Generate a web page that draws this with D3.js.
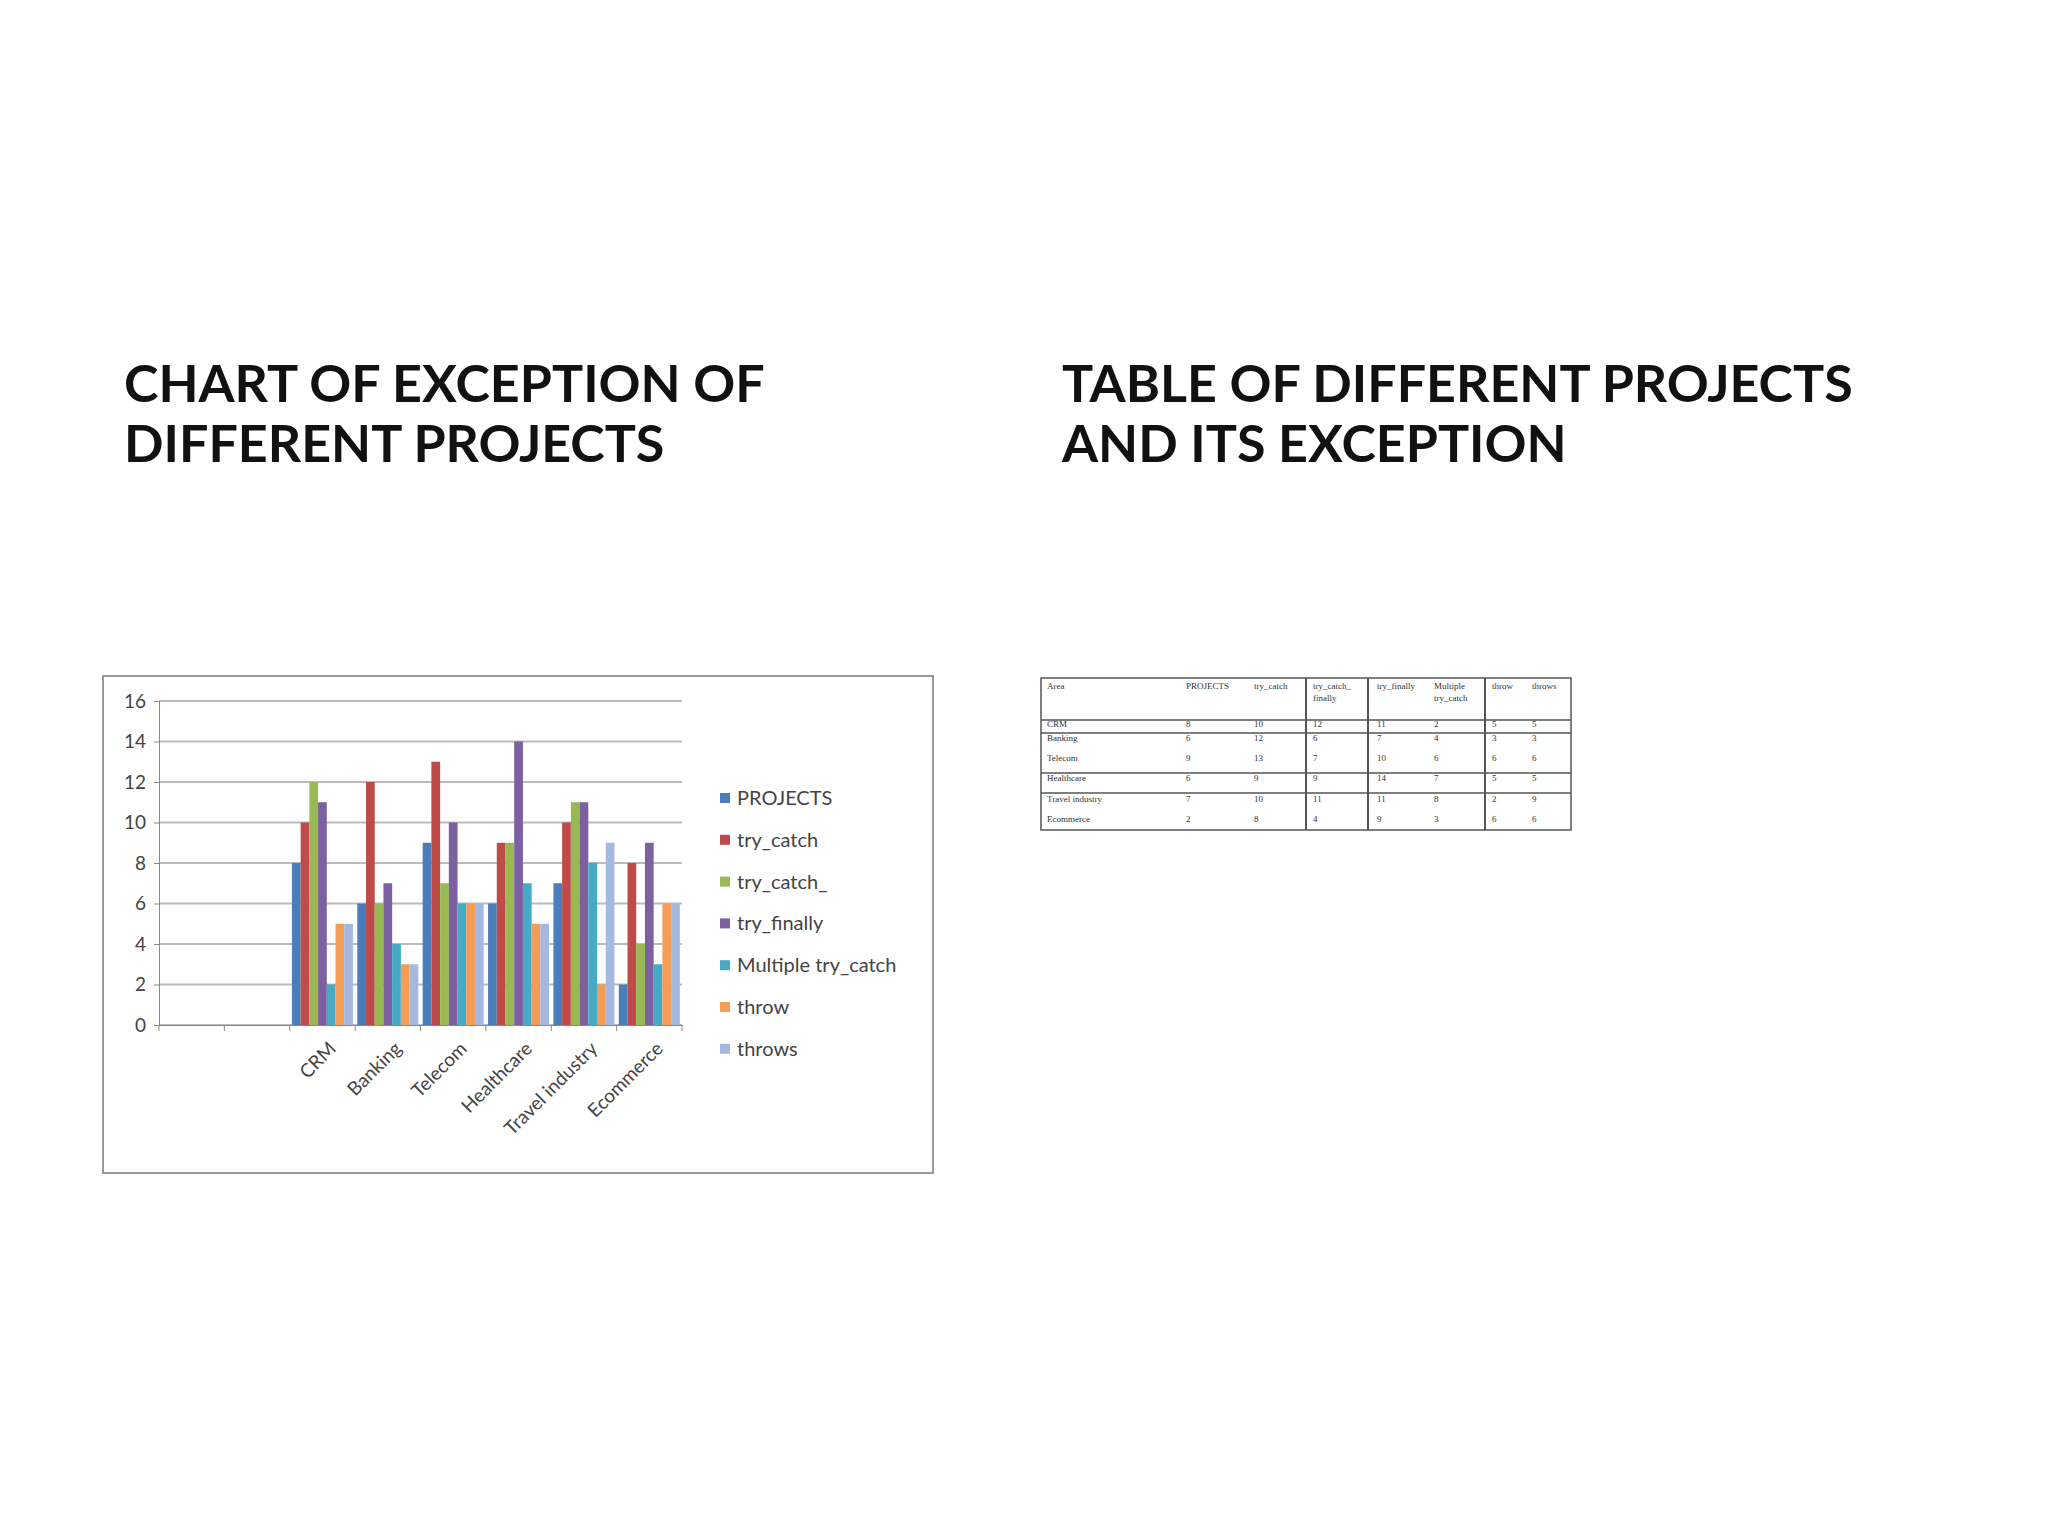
<!DOCTYPE html>
<html><head><meta charset="utf-8">
<script src="https://cdn.jsdelivr.net/npm/d3@7"></script>
<style>body{margin:0;background:#fff}</style>
</head><body>
<svg id="c" width="2048" height="1536"></svg>
<script>
const categories = ["CRM","Banking","Telecom","Healthcare","Travel industry","Ecommerce"];
const seriesNames = ["PROJECTS","try_catch","try_catch_","try_finally","Multiple try_catch","throw","throws"];
const PROJECTS = [8,6,9,6,7,2];
const try_catch = [10,12,13,9,10,8];
const try_catch_ = [12,6,7,9,11,4];
const try_finally = [11,7,10,14,11,9];
const multiple_try_catch = [2,4,6,7,8,3];
const throwV = [5,3,6,5,2,6];
const throwsV = [5,3,6,5,9,6];
const yTicks = [0,2,4,6,8,10,12,14,16];
const colors = ["#4a7ebb","#be4b48","#98b954","#7d60a0","#46aac5","#f59d56","#a5b9e0"];
const series = [PROJECTS,try_catch,try_catch_,try_finally,multiple_try_catch,throwV,throwsV];

const svg = d3.select("#c");
const font = "Lato, 'Open Sans', sans-serif";
// Titles
[["CHART OF EXCEPTION OF","DIFFERENT PROJECTS",124],["TABLE OF DIFFERENT PROJECTS","AND ITS EXCEPTION",1062]].forEach(t=>{
  [t[0],t[1]].forEach((s,i)=>svg.append("text").attr("x",t[2]).attr("y",402+i*60)
    .attr("font-family",font).attr("font-weight","bold").attr("font-size",52).attr("fill","#111").text(s));
});
// Chart frame
svg.append("rect").attr("x",103).attr("y",676).attr("width",830).attr("height",497)
  .attr("fill","#fff").attr("stroke","#999").attr("stroke-width",2);
const slots = ["_a","_b",...categories];
const x = d3.scaleBand().domain(slots).range([159,682]);
const y = d3.scaleLinear().domain([0,16]).range([1025,701]);
const g = svg.append("g");
g.selectAll(".gl").data(yTicks).join("line").attr("x1",159).attr("x2",682)
  .attr("y1",d=>y(d)).attr("y2",d=>y(d)).attr("stroke","#bbb").attr("stroke-width",2);
const ya = g.append("g").attr("transform","translate(159,0)").call(d3.axisLeft(y).tickValues(yTicks).tickSize(5).tickPadding(8));
ya.selectAll("text").attr("font-family",font).attr("font-size",19).attr("fill","#444");
ya.selectAll("line,path").attr("stroke","#888");
const inner = d3.scaleBand().domain(d3.range(7)).range([0,x.bandwidth()]).paddingOuter(0.25);
categories.forEach((c,ci)=>{
  series.forEach((s,si)=>{
    g.append("rect").attr("x",x(c)+inner(si)).attr("width",inner.bandwidth())
      .attr("y",y(s[ci])).attr("height",y(0)-y(s[ci])).attr("fill",colors[si]);
  });
});
const xa = g.append("g").attr("transform","translate(0,1025)").call(d3.axisBottom(x).tickSize(0).tickFormat(d=>d.startsWith("_")?"":d));
xa.selectAll("path").attr("stroke","#888");
xa.selectAll("text").attr("font-family",font).attr("font-size",19).attr("fill","#444")
  .attr("text-anchor","end").attr("transform","translate(8,18) rotate(-45)").attr("dy","0.35em");
// tick marks between bands
g.selectAll(".tk").data(d3.range(9)).join("line")
  .attr("x1",i=>159+i*x.step()).attr("x2",i=>159+i*x.step()).attr("y1",1025).attr("y2",1031).attr("stroke","#888");
// Legend
seriesNames.forEach((n,i)=>{
  const yy = 799 + i*41.8;
  svg.append("rect").attr("x",720).attr("y",yy-6).attr("width",10).attr("height",10).attr("fill",colors[i]);
  svg.append("text").attr("x",737).attr("y",yy+6).attr("font-family",font).attr("font-size",20).attr("fill","#444").text(n);
});
// Table
const tHead = ["Area","PROJECTS","try_catch","try_catch_ finally","try_finally","Multiple try_catch","throw","throws"];
const colX = [1047,1186,1254,1313,1377,1434,1492,1532];
const rowY = [727,741,761,781,802,822];
const tg = svg.append("g").attr("font-family","'Liberation Serif', serif").attr("font-size",9).attr("fill","#333");
tg.append("rect").attr("x",1041).attr("y",678).attr("width",530).attr("height",152).attr("fill","none").attr("stroke","#555").attr("stroke-width",1.5);
[1306,1368,1485].forEach(v=>tg.append("line").attr("x1",v).attr("x2",v).attr("y1",678).attr("y2",830).attr("stroke","#555").attr("stroke-width",2));
[720,733,773,793].forEach(h=>tg.append("line").attr("x1",1041).attr("x2",1571).attr("y1",h).attr("y2",h).attr("stroke","#555").attr("stroke-width",1.5));
tHead.forEach((h,i)=>{
  const parts = h.split(" ");
  parts.forEach((p,j)=>tg.append("text").attr("x",colX[i]).attr("y",689+j*12).text(p));
});
categories.forEach((c,ci)=>{
  tg.append("text").attr("x",colX[0]).attr("y",rowY[ci]).text(c);
  series.forEach((s,si)=>tg.append("text").attr("x",colX[si+1]).attr("y",rowY[ci]).text(s[ci]));
});
</script>
</body></html>
